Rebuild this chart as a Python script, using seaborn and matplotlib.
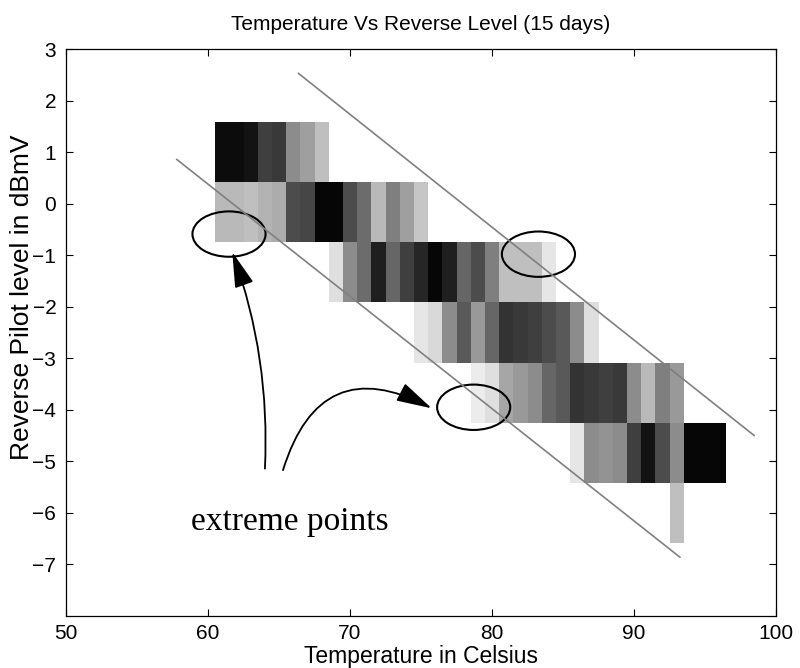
import numpy as np
import pandas as pd
import matplotlib
matplotlib.use("Agg")
import matplotlib.pyplot as plt
from matplotlib.patches import Ellipse
import seaborn as sns

# Reverse pilot level bands (dBmV, bin centres)
level_bands = [1.0, -0.17, -1.33, -2.5, -3.67, -4.83, -6.0]

# Temperatures (deg C) seen in each level band and sample counts per 1-degree cell
temps_band0 = [61, 62, 63, 64, 65, 66, 67, 68]
counts_band0 = [38, 38, 37, 30, 31, 18, 15, 10]

temps_band1 = [61, 62, 63, 64, 65, 66, 67, 68, 69, 70, 71, 72, 73, 74, 75]
counts_band1 = [11, 11, 10, 12, 13, 28, 29, 39, 39, 28, 23, 11, 20, 15, 9]

temps_band2 = [69, 70, 71, 72, 73, 74, 75, 76, 77, 78, 79, 80, 81, 82, 83, 84]
counts_band2 = [5, 18, 23, 35, 24, 30, 34, 39, 35, 24, 28, 20, 10, 10, 10, 4]

temps_band3 = [75, 76, 77, 78, 79, 80, 81, 82, 83, 84, 85, 86, 87]
counts_band3 = [4, 6, 18, 26, 16, 24, 32, 31, 30, 28, 26, 18, 5]

temps_band4 = [79, 80, 81, 82, 83, 84, 85, 86, 87, 88, 89, 90, 91, 92, 93]
counts_band4 = [3, 5, 14, 16, 18, 24, 26, 32, 31, 30, 31, 18, 11, 20, 16]

temps_band5 = [86, 87, 88, 89, 90, 91, 92, 93, 94, 95, 96]
counts_band5 = [4, 18, 17, 18, 30, 37, 28, 18, 39, 39, 39]

temps_band6 = [93]
counts_band6 = [10]

# Envelope lines bounding the normal operating band
upper_env_temp = [66.36, 98.47]
upper_env_level = [2.53, -4.50]
lower_env_temp = [57.79, 93.24]
lower_env_level = [0.86, -6.86]

# Extreme points that are circled (temp, level)
extreme_temp = [61.48, 83.27, 78.71]
extreme_level = [-0.59, -0.98, -3.95]

title_text = "Temperature Vs Reverse Level (15 days)"
x_label = "Temperature in Celsius"
y_label = "Reverse Pilot level in dBmV"
note_text = "extreme points"
x_ticks = [50, 60, 70, 80, 90, 100]
y_ticks = [-7, -6, -5, -4, -3, -2, -1, 0, 1, 2, 3]

# ---- assemble long-form table ----
band_temps = [temps_band0, temps_band1, temps_band2, temps_band3,
              temps_band4, temps_band5, temps_band6]
band_counts = [counts_band0, counts_band1, counts_band2, counts_band3,
               counts_band4, counts_band5, counts_band6]
rows = []
for lvl, temps, counts in zip(level_bands, band_temps, band_counts):
    for t, c in zip(temps, counts):
        rows.append({"temperature": t, "level": lvl, "count": c})
df = pd.DataFrame(rows)

# bin edges: 1 degree wide in temperature, one bin per level band
all_temps = df["temperature"]
temp_edges = list(np.arange(all_temps.min() - 0.5, all_temps.max() + 1.0, 1.0))
half_step = (max(level_bands) - min(level_bands)) / (len(level_bands) - 1) / 2
level_edges = list(np.linspace(min(level_bands) - half_step,
                               max(level_bands) + half_step,
                               len(level_bands) + 1))

sns.set_style("ticks", {"xtick.direction": "in", "ytick.direction": "in",
                        "axes.edgecolor": "black", "text.color": "black",
                        "axes.labelcolor": "black", "xtick.color": "black",
                        "ytick.color": "black"})
plt.rcParams["font.family"] = ["Liberation Sans", "DejaVu Sans"]

fig = plt.figure(figsize=(8, 6.68), dpi=100)
ax = fig.add_axes([0.0825, 0.0778, 0.8875, 0.8488])

sns.histplot(data=df, x="temperature", y="level", weights="count",
             bins=(temp_edges, level_edges), cmap="gray_r",
             vmin=0, vmax=40, ax=ax)

ax.plot(upper_env_temp, upper_env_level, color="0.5", lw=1.2)
ax.plot(lower_env_temp, lower_env_level, color="0.5", lw=1.2)

for ex, ey in zip(extreme_temp, extreme_level):
    ax.add_patch(Ellipse((ex, ey), width=5.15, height=0.88,
                         fill=False, edgecolor="black", lw=1.5))

arrow_style = "-|>,head_length=2.2,head_width=0.6"
ax.annotate("", xy=(61.71, -0.94), xytext=(64.01, -5.14),
            arrowprops=dict(arrowstyle=arrow_style, color="black", lw=1.3,
                            connectionstyle="arc3,rad=0.1",
                            shrinkA=0, shrinkB=0, mutation_scale=10))
ax.annotate("", xy=(75.75, -3.97), xytext=(65.28, -5.17),
            arrowprops=dict(arrowstyle=arrow_style, color="black", lw=1.3,
                            connectionstyle="arc3,rad=-0.6",
                            shrinkA=0, shrinkB=0, mutation_scale=10))
ax.text(58.8, -6.33, note_text, family=["Liberation Serif", "DejaVu Serif"],
        fontsize=24, ha="left", va="baseline", color="black")

ax.set_xlim(50, 100)
ax.set_ylim(-8, 3)
ax.set_xticks(x_ticks)
ax.set_yticks(y_ticks)
ax.set_yticklabels([str(v).replace("-", "\u2212") for v in y_ticks])
ax.tick_params(axis="both", which="both", direction="in", top=True, right=True,
               length=5, width=0.8, labelsize=15, colors="black")
ax.tick_params(axis="y", pad=7)
ax.tick_params(axis="x", pad=6)
for sp in ax.spines.values():
    sp.set_visible(True)
    sp.set_linewidth(0.9)
    sp.set_color("black")

ax.set_title(title_text, fontsize=15, pad=14, color="black")
ax.set_xlabel(x_label, fontsize=16.5, va="center", color="black")
ax.set_ylabel(y_label, fontsize=19, va="center", color="black")
ax.xaxis.set_label_coords(0.5, -0.0715)
ax.yaxis.set_label_coords(-0.062, 0.563)

fig.savefig("out.png", dpi=100)
